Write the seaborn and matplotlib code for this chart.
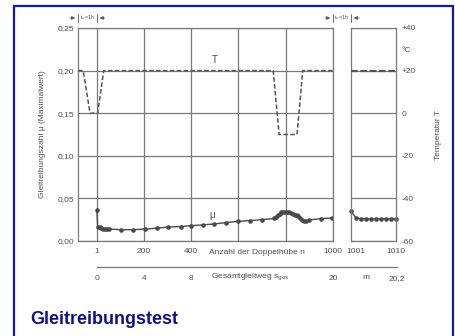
import matplotlib.pyplot as plt
import matplotlib.patches as patches
import matplotlib.transforms as mtransforms
import seaborn as sns

sns.set_theme(style="white")
plt.rcParams['font.family'] = ['Liberation Sans', 'DejaVu Sans']

n_mu = [1, 4, 12, 20, 28, 36, 44, 52, 102, 153, 203, 254, 300, 355, 401, 452, 498,
        548, 599, 649, 700, 750, 758, 766, 774, 782, 790, 798, 806, 814, 822, 830,
        838, 846, 854, 862, 870, 878, 886, 898, 948, 995]
mu = [0.036, 0.017, 0.016, 0.015, 0.0145, 0.014, 0.014, 0.014, 0.0133, 0.0133, 0.014,
      0.015, 0.0163, 0.017, 0.018, 0.019, 0.020, 0.0217, 0.023, 0.024, 0.025, 0.0265,
      0.028, 0.030, 0.032, 0.0335, 0.034, 0.034, 0.0338, 0.0335, 0.033, 0.032, 0.031,
      0.0305, 0.029, 0.027, 0.025, 0.024, 0.0235, 0.0245, 0.0264, 0.027]
n_mu2 = [1001, 1002, 1003, 1004, 1005, 1006, 1007, 1008, 1009, 1010]
mu2 = [0.035, 0.027, 0.026, 0.026, 0.026, 0.026, 0.026, 0.026, 0.026, 0.026]

n_T = [-79, -57, -28, 4, 30, 747, 772, 848, 872, 1000]
T = [20, 20, 0, 0, 20, 20, -10, -10, 20, 20]
n_T2 = [1001, 1010]
T2 = [20, 20]

mu_ticks = [0, 0.05, 0.10, 0.15, 0.20, 0.25]
mu_labels = ['0,00', '0,05', '0,10', '0,15', '0,20', '0,25']
n_ticks = [1, 200, 400, 600, 800, 1000]
n_labels = ['1', '200', '400', '', '', '1000']
n2_ticks = [1001, 1010]
T_ticks = [40, 30, 20, 0, -20, -40, -60]
T_labels = ['+40', '°C', '+20', '0', '-20', '-40', '-60']
s_ticks = [0, 4, 8, 12, 16, 20]
s_labels = ['0', '4', '8', '', '', '20']

W, H = 456, 336
GRID = '#7a7a7a'
TXT = '#4d4d4d'
LINE = '#4a4a4a'
FS = 6


def box(x0, x1, y0, y1):
    return [x0 / W, 1 - y1 / H, (x1 - x0) / W, (y1 - y0) / H]


def style_axes(ax):
    for sp in ax.spines.values():
        sp.set_color(GRID)
        sp.set_linewidth(0.9)
    ax.tick_params(length=0, labelsize=FS, labelcolor=TXT)


fig = plt.figure(figsize=(W / 100, H / 100), dpi=100)

# Panel 1: n = 1 ... 1000
ax1 = fig.add_axes(box(78, 333, 28, 241))
ax1.set_xlim(-79, 1000)
ax1.set_ylim(0, 0.25)
ax1.set_yticks(mu_ticks, mu_labels)
ax1.set_xticks(n_ticks, n_labels)
ax1.grid(True, color=GRID, linewidth=0.9)
style_axes(ax1)
ax1.tick_params(axis='y', pad=3)
ax1.tick_params(axis='x', pad=5)
ax1.set_ylabel('Gleitreibungszahl μ (Maximalwert)', fontsize=FS, color=TXT, labelpad=8)
sns.lineplot(x=n_mu, y=mu, ax=ax1, estimator=None, sort=False, color=LINE,
             linewidth=1.0, marker='o', markersize=3.3, markeredgewidth=0)
ax1.annotate('Anzahl der Doppelhübe n', xy=(680, 0), xycoords=ax1.get_xaxis_transform(),
             xytext=(0, -8.6), textcoords='offset points', fontsize=FS, color=TXT,
             ha='center', va='center')
ax1.text(498, 0.213, 'T', fontsize=FS + 1, color=TXT, ha='center', va='center')
ax1.text(490, 0.031, 'μ', fontsize=FS + 1, color=TXT, ha='center', va='center')

ax1t = ax1.twinx()
ax1t.set_ylim(-60, 40)
ax1t.set_yticks([])
for sp in ax1t.spines.values():
    sp.set_visible(False)
sns.lineplot(x=n_T, y=T, ax=ax1t, estimator=None, sort=False, color='#555555',
             linewidth=1.1, linestyle=(0, (3, 1.5)))
ax1t.set_ylabel('')

# Panel 2: n = 1001 ... 1010
ax2 = fig.add_axes(box(351, 396, 28, 241))
ax2.set_xlim(1001, 1010)
ax2.set_ylim(0, 0.25)
ax2.set_yticks(mu_ticks, [''] * len(mu_ticks))
ax2.set_xticks(n2_ticks, [str(v) for v in n2_ticks])
ax2.grid(True, axis='y', color=GRID, linewidth=0.9)
style_axes(ax2)
ax2.tick_params(axis='x', pad=5)
shift = mtransforms.ScaledTranslation(5 / 100, 0, fig.dpi_scale_trans)
first = ax2.get_xticklabels()[0]
first.set_transform(first.get_transform() + shift)
sns.lineplot(x=n_mu2, y=mu2, ax=ax2, estimator=None, sort=False, color=LINE,
             linewidth=1.0, marker='o', markersize=3.3, markeredgewidth=0, clip_on=False)

ax2t = ax2.twinx()
ax2t.set_ylim(-60, 40)
ax2t.set_yticks(T_ticks, T_labels)
for sp in ax2t.spines.values():
    sp.set_visible(False)
ax2t.tick_params(length=0, labelsize=FS, labelcolor=TXT, pad=4)
sns.lineplot(x=n_T2, y=T2, ax=ax2t, estimator=None, sort=False, color='#555555',
             linewidth=1.6, linestyle=(0, (3, 1.2)))
ax2t.set_ylabel('Temperatur T', fontsize=FS, color=TXT, labelpad=14)

# Gesamtgleitweg-Achse
s_max = 20 * 300 / 236
ax3 = fig.add_axes(box(97, 397, 266, 266.5))
ax3.set_xlim(0, s_max)
ax3.set_yticks([])
for name, sp in ax3.spines.items():
    sp.set_visible(name == 'bottom')
ax3.spines['bottom'].set_color(GRID)
ax3.spines['bottom'].set_linewidth(0.9)
ax3.patch.set_alpha(0)
ax3.set_xticks(s_ticks + [s_max], s_labels + ['20,2'])
ax3.tick_params(axis='x', length=4, width=0.9, color=GRID, direction='out',
                labelsize=FS, labelcolor=TXT, pad=2)
for label, xs in (('Gesamtgleitweg s$_{\\rm ges}$', 9.66), ('m', 22.8)):
    ax3.annotate(label, xy=(xs, 0), xycoords=ax3.get_xaxis_transform(),
                 xytext=(0, -8), textcoords='offset points', fontsize=FS, color=TXT,
                 ha='left' if xs < 20 else 'center', va='center')

# t_v = 1h Markierungen
ARW = dict(arrowstyle='-|>', color='#555555', lw=0.6, mutation_scale=5)
tr1 = ax1.get_xaxis_transform()
tr2 = ax2.get_xaxis_transform()
yb = 1.047
for x in (-79, 1):
    ax1.plot([x, x], [yb - 0.02, yb + 0.02], color='#555555', lw=0.6,
             transform=tr1, clip_on=False)
ax1.annotate('', xy=(-79, yb), xytext=(-125, yb), xycoords=tr1, textcoords=tr1,
             arrowprops=ARW)
ax1.annotate('', xy=(1, yb), xytext=(45, yb), xycoords=tr1, textcoords=tr1,
             arrowprops=ARW)
ax1.text(-39, yb, 't$_v$=1h', fontsize=4, color='#555555', ha='center',
         va='center', transform=tr1)

ax1.plot([1000, 1000], [yb - 0.02, yb + 0.02], color='#555555', lw=0.6,
         transform=tr1, clip_on=False)
ax2.plot([1001, 1001], [yb - 0.02, yb + 0.02], color='#555555', lw=0.6,
         transform=tr2, clip_on=False)
ax1.annotate('', xy=(1000, yb), xytext=(955, yb), xycoords=tr1, textcoords=tr1,
             arrowprops=ARW)
ax2.annotate('', xy=(1001, yb), xytext=(1003.2, yb), xycoords=tr2, textcoords=tr2,
             arrowprops=ARW)
ax1.text(1038, yb, 't$_v$=1h', fontsize=4, color='#555555', ha='center',
         va='center', transform=tr1)

# Titel und Rahmen
fig.text(30 / W, 1 - 324 / H, 'Gleitreibungstest', fontsize=13, fontweight='bold',
         color='#10108c', ha='left', va='baseline')
fig.patches.append(patches.Rectangle((14 / W, -0.05), (453 - 14) / W, 1.05 - 5.5 / H,
                                     transform=fig.transFigure, fill=False,
                                     edgecolor='#1414c0', linewidth=1.6))

fig.savefig('out.png', dpi=100)
